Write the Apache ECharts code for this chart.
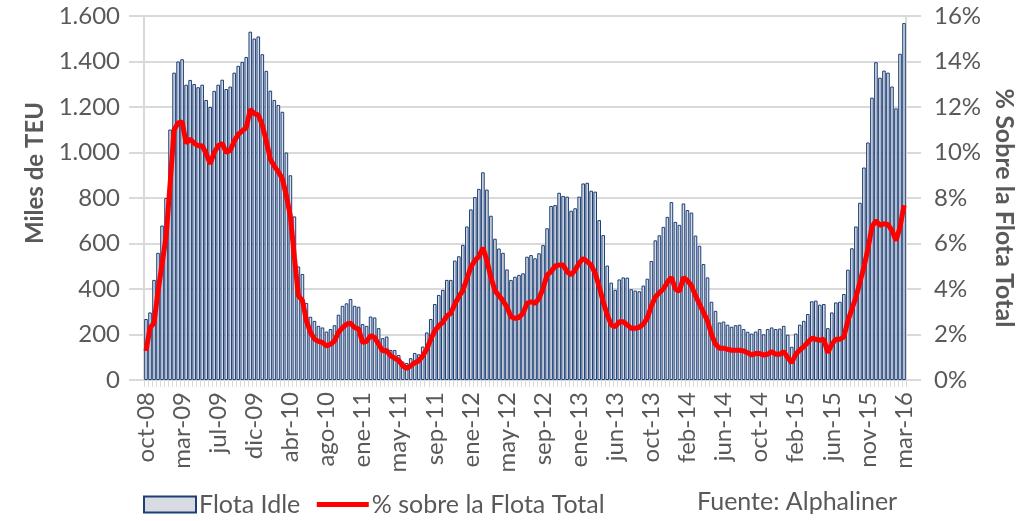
<!DOCTYPE html>
<html lang="es">
<head>
    <meta charset="UTF-8">
    <title>Flota Idle</title>
    <style>
        html,body{margin:0;padding:0;background:#fff;}
        #main{width:1025px;height:521px;}
    </style>
</head>
<body>
<div id="main"></div>
<script src="https://cdn.jsdelivr.net/npm/echarts@6/dist/echarts.min.js"></script>
<script>
    // etiquetas visibles del eje x (una cada 9 quincenas)
    const tickLabels = ['oct-08','mar-09','jul-09','dic-09','abr-10','ago-10','ene-11','may-11','sep-11','ene-12','may-12',
        'sep-12','ene-13','jun-13','oct-13','feb-14','jun-14','oct-14','feb-15','jun-15','nov-15','mar-16'];

    // flota idle, miles de TEU
    const flotaIdle = [
        268,297,440,559,679,800,1101,1351,1400,1410,
        1298,1319,1301,1287,1298,1231,1200,1271,1298,1320,
        1279,1290,1351,1381,1398,1420,1531,1501,1510,1432,
        1359,1272,1231,1209,1179,1000,900,719,499,466,
        338,278,260,238,231,213,224,241,287,326,
        337,356,326,322,246,238,279,275,228,184,
        191,132,132,110,81,75,96,119,113,147,
        209,268,334,374,396,440,440,525,544,594,
        675,750,804,840,913,837,722,621,578,559,
        486,440,454,462,469,542,549,535,557,593,
        667,765,769,823,809,806,744,755,806,864,
        867,832,828,703,637,503,428,396,442,451,
        450,399,393,390,415,445,523,614,636,673,
        717,782,695,682,776,747,736,635,590,510,
        451,344,304,253,257,243,234,241,243,224,
        212,204,213,224,201,224,231,224,226,238,
        199,146,204,243,260,290,346,349,331,334,
        228,297,341,344,378,485,579,675,779,934,
        1044,1241,1397,1329,1360,1351,1290,1194,1434,1569
    ];

    // % sobre la flota total
    const pctFlota = [
        1.28,2.3,2.5,3.9,5.1,6.3,8.6,11.0,11.3,11.35,
        10.4,10.6,10.4,10.3,10.3,9.95,9.5,10.0,10.3,10.4,
        10.0,10.1,10.5,10.8,10.95,11.1,11.9,11.7,11.65,11.2,
        10.5,9.7,9.4,9.15,8.85,8.1,7.2,5.4,3.7,3.5,
        2.6,2.1,1.8,1.7,1.65,1.5,1.57,1.72,2.1,2.3,
        2.45,2.5,2.3,2.25,1.65,1.7,1.95,1.87,1.57,1.28,
        1.3,1.06,0.96,0.87,0.62,0.51,0.62,0.76,0.84,1.06,
        1.35,1.79,2.16,2.38,2.53,2.82,2.93,3.34,3.66,3.93,
        4.44,4.96,5.25,5.43,5.81,5.25,4.51,3.93,3.71,3.49,
        3.2,2.78,2.71,2.75,2.93,3.37,3.44,3.37,3.59,4.03,
        4.62,4.76,5.01,5.05,5.05,4.76,4.62,4.84,5.13,5.35,
        5.2,5.05,4.69,4.1,3.44,2.86,2.42,2.34,2.56,2.56,
        2.42,2.27,2.27,2.32,2.46,2.73,3.25,3.65,3.84,4.0,
        4.3,4.51,4.0,3.9,4.51,4.37,4.15,3.71,3.34,2.97,
        2.6,2.0,1.57,1.4,1.4,1.35,1.31,1.31,1.31,1.28,
        1.2,1.1,1.16,1.16,1.1,1.13,1.25,1.13,1.13,1.25,
        0.99,0.76,1.13,1.32,1.46,1.65,1.84,1.79,1.75,1.79,
        1.2,1.57,1.79,1.79,1.9,2.6,3.12,3.63,4.29,4.96,
        5.76,6.72,7.01,6.79,6.87,6.84,6.57,6.13,6.72,7.68
    ];

    const categories = flotaIdle.map((d,i) => i % 9 === 0 ? tickLabels[i / 9] : '');

    const grey = '#595959';
    const font = 'Lato';

    const myChart = echarts.init(document.getElementById('main'));

    const option = {
        animation:false,
        textStyle:{fontFamily:font},
        grid:{left:144, right:109, top:16, bottom:141},
        title:{
            text:'Fuente: Alphaliner',
            left:692, top:484,
            textStyle:{fontFamily:font, fontSize:25, fontWeight:'normal', color:grey}
        },
        legend:{
            left:138, top:487,
            itemWidth:52, itemHeight:16, itemGap:14,
            textStyle:{fontFamily:font, fontSize:25, color:grey, padding:[0,0,0,-2]},
            data:[
                {name:'Flota Idle', icon:'rect'},
                {name:'% sobre la Flota Total', itemStyle:{opacity:0}, lineStyle:{width:5}}
            ]
        },
        xAxis:{
            type:'category',
            data:categories,
            axisLine:{lineStyle:{color:'#d9d9d9', width:2}},
            axisTick:{show:true, interval:0, length:7, lineStyle:{color:'#d9d9d9'}},
            axisLabel:{interval:8, rotate:90, color:grey, fontSize:24, margin:12}
        },
        yAxis:[
            {
                type:'value', min:0, max:1600, interval:200,
                name:'Miles de TEU', nameLocation:'middle', nameGap:95,
                nameTextStyle:{fontSize:24, fontWeight:'bold', color:grey, padding:[0,0,0,50]},
                axisLine:{show:true, lineStyle:{color:'#d9d9d9', width:2}},
                axisTick:{show:true, length:15, lineStyle:{color:'#d9d9d9', width:2}},
                axisLabel:{color:grey, fontSize:24, margin:24,
                    formatter:v => v >= 1000 ? String(v).replace(/(\d)(\d{3})$/, '$1.$2') : v},
                splitLine:{lineStyle:{color:'#d9d9d9', width:2}}
            },
            {
                type:'value', min:0, max:16, interval:2,
                name:'% Sobre la Flota Total', nameLocation:'middle', nameGap:80, nameRotate:-90,
                nameTextStyle:{fontSize:25, fontWeight:'bold', color:grey, padding:[0,0,0,20]},
                axisLine:{show:true, lineStyle:{color:'#d9d9d9', width:2}},
                axisTick:{show:true, length:15, lineStyle:{color:'#d9d9d9', width:2}},
                axisLabel:{color:grey, fontSize:24, margin:28, formatter:'{value}%'},
                splitLine:{show:false}
            }
        ],
        series:[
            {
                name:'Flota Idle',
                type:'bar',
                data:flotaIdle,
                barCategoryGap:'10%',
                itemStyle:{color:'#d8dce2', borderColor:'#1c3f78', borderWidth:1}
            },
            {
                name:'% sobre la Flota Total',
                type:'line',
                yAxisIndex:1,
                data:pctFlota,
                symbol:'none',
                lineStyle:{color:'#ff0000', width:5},
                itemStyle:{color:'#ff0000'},
                z:5
            }
        ]
    };

    myChart.setOption(option);
</script>
</body>
</html>
